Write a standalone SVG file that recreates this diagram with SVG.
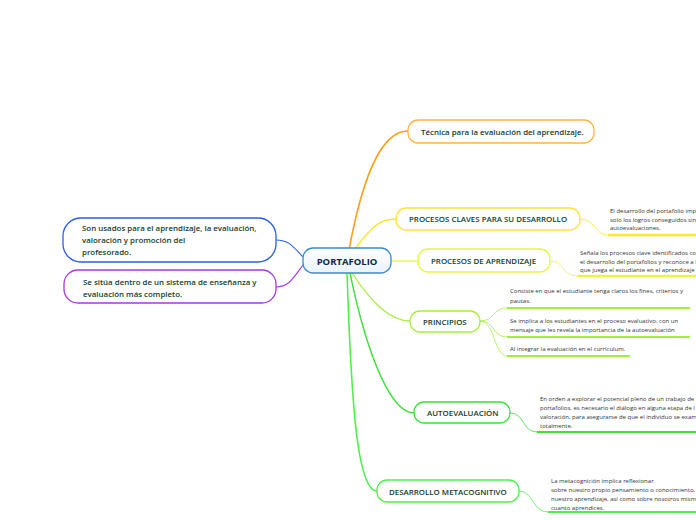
<svg xmlns="http://www.w3.org/2000/svg" width="696" height="520" viewBox="0 0 696 520">
<defs>
<linearGradient id="cg" x1="0" y1="0" x2="0" y2="1"><stop offset="0" stop-color="#ffffff"/><stop offset="1" stop-color="#eaf3fb"/></linearGradient>
</defs>
<style>
.n{fill:#fff;stroke-width:1.3}
.t{font-family:"Open Sans","Noto Sans",sans-serif;font-size:7.9px;font-weight:600;fill:#143c2c}
.d{font-family:"Open Sans","Noto Sans",sans-serif;font-size:6px;fill:#333}
.c{fill:none}
</style>
<rect width="696" height="520" fill="#fff"/>
<g id="connectors">
<path class="c" d="M349,250 C362,180 380,131 408,131" stroke="#ff9f1c" stroke-width="1.6"/>
<path class="c" d="M355,249 C372,226 380,219 396,219" stroke="#ffe433" stroke-width="1.3"/>
<path class="c" d="M391,261 C400,261 408,261 418,261" stroke="#e8f542" stroke-width="1.3"/>
<path class="c" d="M352,273 C372,303 390,321 410,321" stroke="#a6ee3e" stroke-width="1.3"/>
<path class="c" d="M350,273 C368,360 392,413 414,413" stroke="#3ee03a" stroke-width="1.4"/>
<path class="c" d="M347,273 C351,390 356,491 377,491" stroke="#4ef04e" stroke-width="1.6"/>
<path class="c" d="M303,257 C292,245 288,240 276,240" stroke="#2a5fe6" stroke-width="1.1"/>
<path class="c" d="M303,265 C292,280 288,287 276,287" stroke="#a33ae0" stroke-width="1.1"/>
<path class="c" d="M580,219 C596,219 594,235 608,235" stroke="#ffe433" stroke-width="0.8"/>
<path class="c" d="M608,235 L696,235" stroke="#ffe433" stroke-width="2.4"/>
<path class="c" d="M550,261 C565,261 562,276 577,276" stroke="#e8f542" stroke-width="0.8"/>
<path class="c" d="M577,276 L696,276" stroke="#e8f542" stroke-width="2.4"/>
<path class="c" d="M480,321 C495,321 492,308 507,308" stroke="#a6ee3e" stroke-width="0.8"/>
<path class="c" d="M480,321 C495,321 492,337 507,337" stroke="#a6ee3e" stroke-width="0.8"/>
<path class="c" d="M480,321 C495,321 494,356 507,356" stroke="#a6ee3e" stroke-width="0.8"/>
<path class="c" d="M507,308 L690,308 M507,337 L690,337 M507,356 L630,356" stroke="#a6ee3e" stroke-width="2.2"/>
<path class="c" d="M510,413 C525,413 522,432 537,432" stroke="#3ee03a" stroke-width="0.8"/>
<path class="c" d="M537,432 L696,432" stroke="#3ee03a" stroke-width="2.2"/>
<path class="c" d="M519,491 C534,491 532,512 548,512" stroke="#4ef04e" stroke-width="0.8"/>
<path class="c" d="M548,512 L696,512" stroke="#4ef04e" stroke-width="2.2"/>
</g>
<g id="portafolio">
<rect x="303" y="248" width="88" height="25" rx="10" fill="url(#cg)" stroke="#3a8ad0" stroke-width="1.3"/>
<text x="347" y="264.5" text-anchor="middle" font-family="'Open Sans','Noto Sans',sans-serif" font-size="9.5" font-weight="700" fill="#10244a">PORTAFOLIO</text>
</g>
<g id="tecnica">
<rect class="n" x="408" y="120" width="186" height="23" rx="10" stroke="#ffb347"/>
<text class="t" x="421" y="134.5">Técnica para la evaluación del aprendizaje.</text>
</g>
<g id="procesos-claves">
<rect class="n" x="396" y="208" width="184" height="22" rx="10" stroke="#ffe433"/>
<text class="t" x="409" y="222">PROCESOS CLAVES PARA SU DESARROLLO</text>
<text class="d" x="610" y="213">El desarrollo del portafolio imp</text>
<text class="d" x="610" y="221.5">solo los logros conseguidos sin</text>
<text class="d" x="610" y="230">autoevaluaciones.</text>
</g>
<g id="procesos-aprendizaje">
<rect class="n" x="418" y="249" width="132" height="23" rx="10" stroke="#e8f542"/>
<text class="t" x="431" y="263.5">PROCESOS DE APRENDIZAJE</text>
<text class="d" x="580" y="255">Señala los procesos clave identificados co</text>
<text class="d" x="580" y="263.5">el desarrollo del portafolios y reconoce a l</text>
<text class="d" x="580" y="272">que juega el estudiante en el aprendizaje</text>
</g>
<g id="principios">
<rect class="n" x="410" y="311" width="70" height="21" rx="10" stroke="#a6ee3e"/>
<text class="t" x="423" y="324.5">PRINCIPIOS</text>
<text class="d" x="510" y="293">Consiste en que el estudiante tenga claros los fines, criterios y</text>
<text class="d" x="510" y="302.5">pautas.</text>
<text class="d" x="510" y="322.5">Se implica a los estudiantes en el proceso evaluativo, con un</text>
<text class="d" x="510" y="331.5">mensaje que les revela la importancia de la autoevaluación</text>
<text class="d" x="510" y="351">Al integrar la evaluación en el currículum.</text>
</g>
<g id="autoevaluacion">
<rect class="n" x="414" y="402" width="96" height="21" rx="10" stroke="#3ee03a"/>
<text class="t" x="427" y="415.5">AUTOEVALUACIÓN</text>
<text class="d" x="540" y="400.5">En orden a explorar el potencial pleno de un trabajo de</text>
<text class="d" x="540" y="409.5">portafolios, es necesario el diálogo en alguna etapa de l</text>
<text class="d" x="540" y="418.5">valoración, para asegurarse de que el individuo se exam</text>
<text class="d" x="540" y="427.5">totalmente.</text>
</g>
<g id="metacognitivo">
<rect class="n" x="377" y="480" width="142" height="22" rx="10" stroke="#4ef04e"/>
<text class="t" x="389" y="494.5">DESARROLLO METACOGNITIVO</text>
<text class="d" x="551" y="482.5">La metacognición implica reflexionar</text>
<text class="d" x="551" y="491.5"> sobre nuestro propio pensamiento o conocimiento,</text>
<text class="d" x="551" y="500.5">nuestro aprendizaje, así como sobre nosotros mism</text>
<text class="d" x="551" y="509.5">cuanto aprendices.</text>
</g>
<g id="usados">
<rect class="n" x="63" y="218" width="213" height="44" rx="18" stroke="#2a5fe6"/>
<text class="t" x="82" y="231">Son usados para el aprendizaje, la evaluación,</text>
<text class="t" x="82" y="243">valoración y promoción del</text>
<text class="t" x="82" y="255">profesorado.</text>
</g>
<g id="situa">
<rect class="n" x="64" y="270" width="212" height="33" rx="14" stroke="#a33ae0"/>
<text class="t" x="83" y="284.5">Se sitúa dentro de un sistema de enseñanza y</text>
<text class="t" x="83" y="296.5">evaluación más completo.</text>
</g>
</svg>
